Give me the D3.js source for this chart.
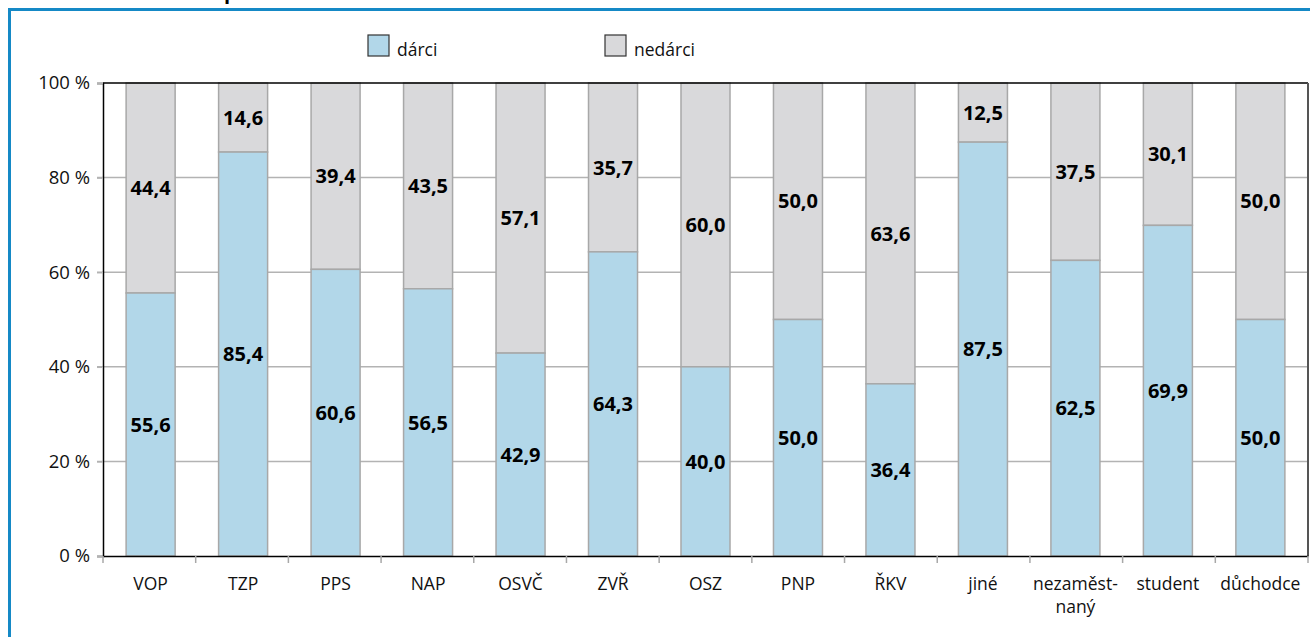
<!DOCTYPE html>
<html>
<head>
<meta charset="utf-8">
<script src="https://cdn.jsdelivr.net/npm/d3@7"></script>
<style>
  body { margin: 0; background: #fff; }
  text { font-family: "Open Sans", sans-serif; }
</style>
</head>
<body>
<div id="viz"></div>
<script>
const w = 1310;
const h = 637;

const categories = ['VOP', 'TZP', 'PPS', 'NAP', 'OSVČ', 'ZVŘ', 'OSZ', 'PNP', 'ŘKV', 'jiné', 'nezaměst-|naný', 'student', 'důchodce'];
const darci = [55.6, 85.4, 60.6, 56.5, 42.9, 64.3, 40.0, 50.0, 36.4, 87.5, 62.5, 69.9, 50.0];
const nedarci = [44.4, 14.6, 39.4, 43.5, 57.1, 35.7, 60.0, 50.0, 63.6, 12.5, 37.5, 30.1, 50.0];
const yTicks = [0, 20, 40, 60, 80, 100];
const seriesNames = ['dárci', 'nedárci'];
const colors = ['#b2d7e9', '#d9d9db'];

const margin = {left: 103, right: 2, top: 83, bottom: 81};

const cz = d3.formatLocale({decimal: ',', thousands: ' ', grouping: [3], currency: ['', ' Kč']});
const fmt = cz.format('.1f');

const svg = d3.select('#viz').append('svg')
    .attr('width', w)
    .attr('height', h)

// blue frame
svg.append('path')
    .attr('d', `M9.5,${h} L9.5,9.5 L${w},9.5`)
    .attr('fill', 'none')
    .attr('stroke', '#1589c6')
    .attr('stroke-width', 3)

// heading, cut off by the top edge in the source
svg.append('text')
    .attr('x', 224)
    .attr('y', -1)
    .attr('font-size', 20)
    .attr('font-weight', 700)
    .text('p')

const x = d3.scaleBand()
    .domain(categories)
    .range([margin.left, w - margin.right])
    .paddingInner(0.47)
    .paddingOuter(0.25)

const y = d3.scaleLinear()
    .domain([0, 100])
    .range([h - margin.bottom, margin.top])

// gridlines
svg.append('g')
    .selectAll('line')
    .data(yTicks.filter(d => d > 0 && d < 100))
    .join('line')
    .attr('x1', margin.left - 6)
    .attr('x2', w - margin.right)
    .attr('y1', d => y(d))
    .attr('y2', d => y(d))
    .attr('stroke', '#b3b3b3')
    .attr('stroke-width', 1.5)

// y axis
let yAxis = svg.append('g')
    .attr('transform', `translate(${margin.left},0)`)
    .call(d3.axisLeft(y).tickValues(yTicks).tickSize(6).tickFormat(d => d + ' %'))
yAxis.select('.domain').attr('stroke', '#000').attr('stroke-width', 1.5)
yAxis.selectAll('.tick line').attr('stroke', '#b3b3b3').attr('stroke-width', 1.5)
yAxis.selectAll('.tick text')
    .attr('font-size', 18.5)
    .attr('font-family', '"Open Sans", sans-serif')
    .attr('fill', '#111')
    .attr('x', -13)

// bars
const stacked = categories.map((c, i) => ({c, a: darci[i], b: nedarci[i]}));
const barG = svg.append('g');

barG.selectAll('rect.b')
    .data(stacked)
    .join('rect')
    .attr('class', 'b')
    .attr('x', d => x(d.c))
    .attr('width', x.bandwidth())
    .attr('y', d => y(d.a + d.b))
    .attr('height', d => y(d.a) - y(d.a + d.b))
    .attr('fill', colors[1])
    .attr('stroke', '#a8a8a8')
    .attr('stroke-width', 1.5)

barG.selectAll('rect.a')
    .data(stacked)
    .join('rect')
    .attr('class', 'a')
    .attr('x', d => x(d.c))
    .attr('width', x.bandwidth())
    .attr('y', d => y(d.a))
    .attr('height', d => y(0) - y(d.a))
    .attr('fill', colors[0])
    .attr('stroke', '#a8a8a8')
    .attr('stroke-width', 1.5)

// value labels
const lab = svg.append('g')
    .attr('font-size', 20)
    .attr('font-weight', 700)
    .attr('text-anchor', 'middle')
    .attr('fill', '#000')

lab.selectAll('text.a')
    .data(stacked)
    .join('text')
    .attr('class', 'a')
    .attr('x', d => x(d.c) + x.bandwidth() / 2)
    .attr('y', d => (y(0) + y(d.a)) / 2)
    .attr('dy', '0.36em')
    .text(d => fmt(d.a))

lab.selectAll('text.b')
    .data(stacked)
    .join('text')
    .attr('class', 'b')
    .attr('x', d => x(d.c) + x.bandwidth() / 2)
    .attr('y', d => (y(d.a) + y(d.a + d.b)) / 2)
    .attr('dy', '0.36em')
    .text(d => fmt(d.b))

// plot border top/right
svg.append('line')
    .attr('x1', margin.left).attr('x2', w - margin.right)
    .attr('y1', y(100)).attr('y2', y(100))
    .attr('stroke', '#000').attr('stroke-width', 1.5)
svg.append('line')
    .attr('x1', w - margin.right).attr('x2', w - margin.right)
    .attr('y1', y(100)).attr('y2', y(0))
    .attr('stroke', '#555').attr('stroke-width', 2)

// x axis
let xAxis = svg.append('g')
    .attr('transform', `translate(0,${y(0)})`)
    .call(d3.axisBottom(x).tickSize(0).tickFormat(''))
xAxis.select('.domain').attr('stroke', '#000').attr('stroke-width', 1.5)

// category boundary ticks
const sepStep = (w - margin.right - margin.left) / categories.length;
xAxis.selectAll('line.sep')
    .data(d3.range(categories.length + 1))
    .join('line')
    .attr('class', 'sep')
    .attr('x1', i => margin.left + i * sepStep)
    .attr('x2', i => margin.left + i * sepStep)
    .attr('y1', 0)
    .attr('y2', 7)
    .attr('stroke', '#a8a8a8')
    .attr('stroke-width', 1.5)

const catLabels = svg.append('g')
    .attr('font-size', 17.5)
    .attr('text-anchor', 'middle')
    .attr('fill', '#111')

catLabels.selectAll('text')
    .data(categories)
    .join('text')
    .attr('x', d => x(d) + x.bandwidth() / 2)
    .attr('y', 590)
    .each(function(d) {
        const parts = d.split('|');
        d3.select(this).selectAll('tspan')
            .data(parts)
            .join('tspan')
            .attr('x', x(d) + x.bandwidth() / 2)
            .attr('dy', (p, i) => i === 0 ? 0 : 23)
            .text(p => p)
    })

// legend
const legend = svg.append('g')
const legendX = [368, 605];
seriesNames.forEach((name, i) => {
    legend.append('rect')
        .attr('x', legendX[i])
        .attr('y', 35)
        .attr('width', 21)
        .attr('height', 21)
        .attr('fill', colors[i])
        .attr('stroke', '#333')
        .attr('stroke-width', 1.2)
    legend.append('text')
        .attr('x', legendX[i] + 29)
        .attr('y', 56)
        .attr('font-size', 17.5)
        .attr('fill', '#111')
        .text(name)
})
</script>
</body>
</html>
